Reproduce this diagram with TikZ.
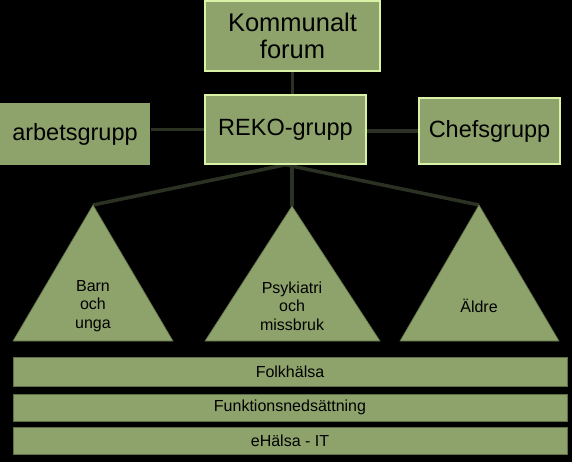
\documentclass[tikz,border=0pt]{standalone}
\usepackage{fontspec}
\setmainfont{Liberation Sans}
\usepackage{xcolor}
\usetikzlibrary{positioning,backgrounds,calc}
\definecolor{boxgreen}{HTML}{8EA36B}
\definecolor{rimgreen}{HTML}{D9F2A6}
\definecolor{linkdark}{HTML}{2C3223}
\definecolor{edgedark}{HTML}{5F6E47}
\tikzset{
  grp/.style={rectangle, draw=rimgreen, line width=1.5pt, fill=boxgreen,
    align=center, font=\fontsize{23.5}{27}\selectfont, inner sep=0pt},
  tri/.style={fill=boxgreen, draw=edgedark, line width=0.6pt},
  trilbl/.style={align=center, font=\fontsize{16}{18.5}\selectfont, inner sep=0pt},
  layer/.style={rectangle, draw=edgedark, line width=0.8pt, fill=boxgreen,
    minimum width=554pt, align=center, font=\fontsize{16}{18}\selectfont, inner sep=0pt},
  link/.style={draw=linkdark, line width=3.5pt},
}
\begin{document}
\begin{tikzpicture}[x=1pt,y=-1pt]
\useasboundingbox (0,0) rectangle (572,462);
% boxes
\node[grp, minimum width=175pt, minimum height=70pt, font=\fontsize{25.5}{27}\selectfont] (forum) at (292.5,36) {Kommunalt\\forum};
\node[grp, minimum width=161pt, minimum height=69pt] (reko) at (285.5,129.5) {REKO-grupp};
\node[grp, draw=none, minimum width=150pt, minimum height=62pt] (arbets) at (75,134) {arbetsgrupp};
\node[grp, minimum width=141pt, minimum height=66pt] (chefs) at (489.5,131) {Chefsgrupp};
% triangles
\coordinate (barn-top) at (93,205);
\coordinate (psyk-top) at (292,206);
\coordinate (aldre-top) at (479,205);
\filldraw[tri] (barn-top) -- (13,341) -- (173,341) -- cycle;
\filldraw[tri] (psyk-top) -- (205,341) -- (380,341) -- cycle;
\filldraw[tri] (aldre-top) -- (400,341) -- (559,341) -- cycle;
\node[trilbl] (barn) at (93,306) {Barn\\och\\unga};
\node[trilbl] (psyk) at (292,306) {Psykiatri\\och\\missbruk};
\node[trilbl] (aldre) at (479,306) {Äldre};
% layers
\node[layer, minimum height=29pt] (folk) at (290,371.5) {Folkhälsa};
\node[layer, minimum height=27pt] (funk) at (290,407.5) {Funktionsnedsättning};
\node[layer, minimum height=27pt] (ehalsa) at (290,440.5) {eHälsa - IT};
\begin{scope}[on background layer]
\fill[black] (0,0) rectangle (572,462);
\draw[link] (forum.south) -- (forum.south |- reko.north);
\draw[link] (reko.west) -- (reko.west -| arbets.east);
\draw[link] (chefs.west) -- (chefs.west -| reko.east);
\draw[link] (reko.south) -- (barn-top);
\draw[link] (reko.south -| psyk-top) -- (psyk-top);
\draw[link] (reko.south) -- (aldre-top);
\end{scope}
\end{tikzpicture}
\end{document}
